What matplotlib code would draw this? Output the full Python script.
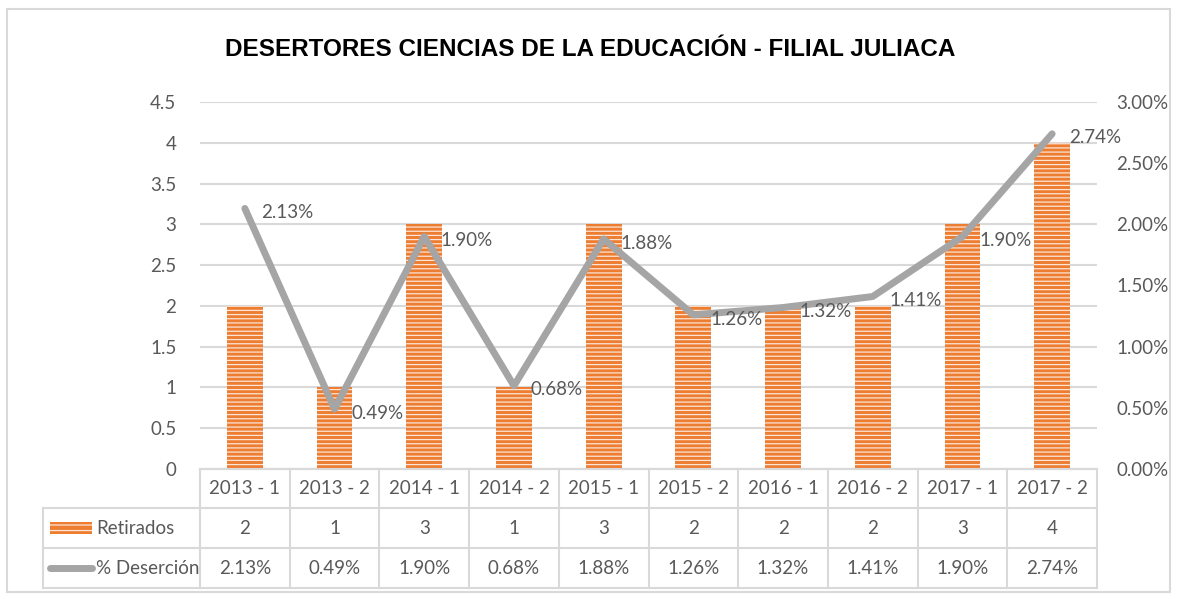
import numpy as np
import matplotlib.pyplot as plt
from matplotlib.lines import Line2D
from matplotlib.patches import Rectangle
import matplotlib.transforms as mtransforms

plt.rcParams['font.family'] = ['Lato', 'DejaVu Sans']
plt.rcParams['hatch.linewidth'] = 0.9

periodos = ["2013 - 1", "2013 - 2", "2014 - 1", "2014 - 2", "2015 - 1",
            "2015 - 2", "2016 - 1", "2016 - 2", "2017 - 1", "2017 - 2"]
retirados = [2, 1, 3, 1, 3, 2, 2, 2, 3, 4]
desercion = [2.13, 0.49, 1.90, 0.68, 1.88, 1.26, 1.32, 1.41, 1.90, 2.74]  # %

left_ticks = [0, 0.5, 1, 1.5, 2, 2.5, 3, 3.5, 4, 4.5]
right_ticks = [0, 0.5, 1.0, 1.5, 2.0, 2.5, 3.0]

W, H = 1177, 599
fig = plt.figure(figsize=(W / 100, H / 100), dpi=100)
txt = '#595959'
orange = '#ED7D31'
gray = '#A5A5A5'
grid = '#D9D9D9'
fs = 13.5

# plot area in pixels
x0, x1 = 200, 1097
y_top, y_bot = 102, 469
ax = fig.add_axes([x0 / W, 1 - y_bot / H, (x1 - x0) / W, (y_bot - y_top) / H])
ax2 = ax.twinx()

x = np.arange(len(periodos))
ax.bar(x, retirados, width=0.4, color=orange, edgecolor='#FCE4D6', linewidth=0,
       hatch='----', zorder=2)
ax.set_xlim(-0.5, len(periodos) - 0.5)
ax.set_ylim(0, 4.5)
ax.set_yticks(left_ticks)
ax.set_yticklabels([f"{t:g}" for t in left_ticks])
ax.yaxis.grid(True, color=grid, linewidth=1.5, zorder=0)
ax.set_axisbelow(True)
ax.set_xticks([])
for s in ax.spines.values():
    s.set_visible(False)
ax.spines['bottom'].set_visible(True)
ax.spines['bottom'].set_color(grid)
ax.spines['bottom'].set_linewidth(1.5)
ax.tick_params(axis='y', length=0, labelsize=fs, colors=txt, pad=17)

ax2.plot(x, desercion, color=gray, linewidth=5, solid_capstyle='round',
         solid_joinstyle='round', zorder=3)
for xi, v in zip(x, desercion):
    ax2.annotate(f"{v:.2f}%", (xi, v), xytext=(12, -3), textcoords='offset points',
                 ha='left', va='center', fontsize=fs, color=txt)
ax2.set_ylim(0, 3.0)
ax2.set_yticks(right_ticks)
ax2.set_yticklabels([f"{t:.2f}%" for t in right_ticks])
ax2.tick_params(axis='y', length=0, labelsize=fs, colors=txt, pad=14)
for s in ax2.spines.values():
    s.set_visible(False)

# title
fig.text(590 / W, 1 - 50 / H, "DESERTORES CIENCIAS DE LA EDUCACIÓN - FILIAL JULIACA",
         ha='center', va='center', fontsize=17.5, fontweight='bold', color='black',
         family=['Liberation Sans', 'DejaVu Sans'])

# data table
tr = mtransforms.blended_transform_factory(ax.transData, fig.transFigure)
def fy(py):
    return 1 - py / H

rows_y = [469, 508, 548, 588]
lc = '#D9D9D9'
lw = 1.5
n = len(periodos)
edges = np.arange(n + 1) - 0.5
for py in rows_y:
    ax.add_line(Line2D([edges[0], edges[-1]], [fy(py), fy(py)], transform=tr,
                       color=lc, lw=lw, clip_on=False))
for e in edges:
    ax.add_line(Line2D([e, e], [fy(469), fy(588)], transform=tr,
                       color=lc, lw=lw, clip_on=False))
lx0 = 43 / W
lx1 = x0 / W
for py in rows_y[1:]:
    fig.add_artist(Line2D([lx0, lx1], [fy(py), fy(py)], color=lc, lw=lw))
fig.add_artist(Line2D([lx0, lx0], [fy(508), fy(588)], color=lc, lw=lw))

for i, p in enumerate(periodos):
    ax.text(i, fy(489), p, transform=tr, ha='center', va='center', fontsize=fs, color=txt)
    ax.text(i, fy(528), str(retirados[i]), transform=tr, ha='center', va='center',
            fontsize=fs, color=txt)
    ax.text(i, fy(568), f"{desercion[i]:.2f}%", transform=tr, ha='center', va='center',
            fontsize=fs, color=txt)

# legend keys
fig.add_artist(Rectangle((50 / W, fy(534)), 42 / W, 12 / H, facecolor=orange,
                         edgecolor='#FCE4D6', linewidth=0, hatch='---'))
fig.text(96 / W, fy(528), "Retirados", ha='left', va='center', fontsize=fs, color=txt)
fig.add_artist(Line2D([50 / W, 92 / W], [fy(568), fy(568)], color=gray, lw=5,
                      solid_capstyle='round'))
fig.text(96 / W, fy(568), "% Deserción", ha='left', va='center', fontsize=fs, color=txt)

# outer frame
fig.add_artist(Rectangle((7 / W, 1 - 592 / H), 1163 / W, 583 / H, fill=False,
                         edgecolor='#D9D9D9', linewidth=1.5))

fig.savefig('out.png', dpi=100)
